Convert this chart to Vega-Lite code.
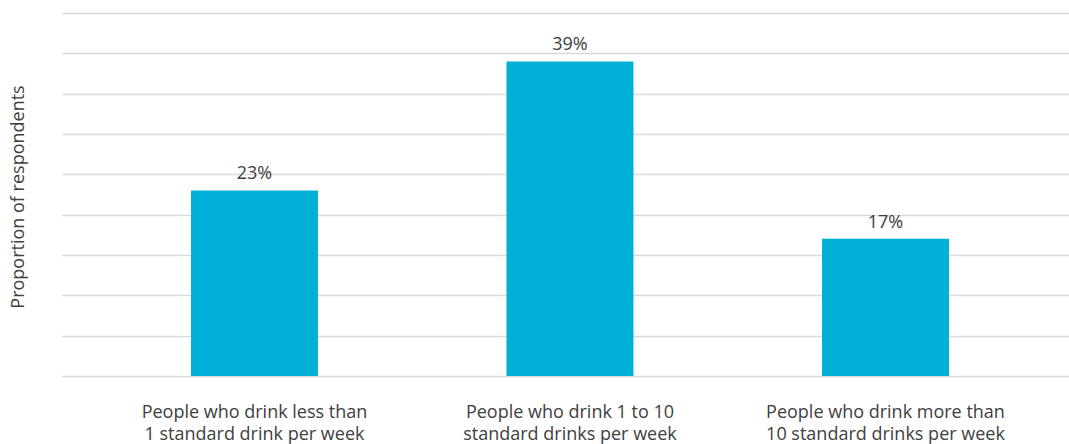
{
  "$schema": "https://vega.github.io/schema/vega-lite/v6.json",
  "width": 1007,
  "height": 363,
  "autosize": {"type": "none"},
  "padding": {"left": 62, "top": 13, "right": 0, "bottom": 68},
  "background": "white",
  "config": {
    "view": {"stroke": null},
    "font": "Open Sans",
    "text": {"font": "Open Sans"}
  },
  "data": {
    "values": [
      {"category": "People who drink less than|1 standard drink per week", "value": 0.23},
      {"category": "People who drink 1 to 10|standard drinks per week", "value": 0.39},
      {"category": "People who drink more than|10 standard drinks per week", "value": 0.17}
    ]
  },
  "encoding": {
    "x": {
      "field": "category",
      "type": "nominal",
      "sort": null,
      "scale": {"paddingInner": 0.5975, "paddingOuter": 0.3946, "align": 0.518},
      "axis": {
        "title": null,
        "labelAngle": 0,
        "labelExpr": "split(datum.label, '|')",
        "labelFont": "Open Sans",
        "labelFontSize": 18,
        "labelColor": "#404040",
        "labelLineHeight": 22,
        "labelPadding": 41,
        "labelBaseline": "alphabetic",
        "labelLimit": 500,
        "ticks": false,
        "domain": true,
        "domainColor": "#d9d9d9",
        "domainWidth": 1
      }
    },
    "y": {
      "field": "value",
      "type": "quantitative",
      "scale": {"domain": [0, 0.45]},
      "axis": {
        "title": "Proportion of respondents",
        "titleFont": "Open Sans",
        "titleFontSize": 18,
        "titleFontWeight": "normal",
        "titleColor": "#404040",
        "titlePadding": 35,
        "titleY": 183.5,
        "labels": false,
        "ticks": false,
        "domain": false,
        "values": [0, 0.05, 0.1, 0.15, 0.2, 0.25, 0.3, 0.35, 0.4, 0.45],
        "grid": true,
        "gridColor": "#d9d9d9",
        "gridWidth": 1.3
      }
    }
  },
  "layer": [
    {"mark": {"type": "bar", "color": "#00B0D6"}},
    {
      "mark": {"type": "text", "baseline": "alphabetic", "dy": -11, "fontSize": 18, "color": "#404040"},
      "encoding": {"text": {"field": "value", "type": "quantitative", "format": ".0%"}}
    }
  ]
}
